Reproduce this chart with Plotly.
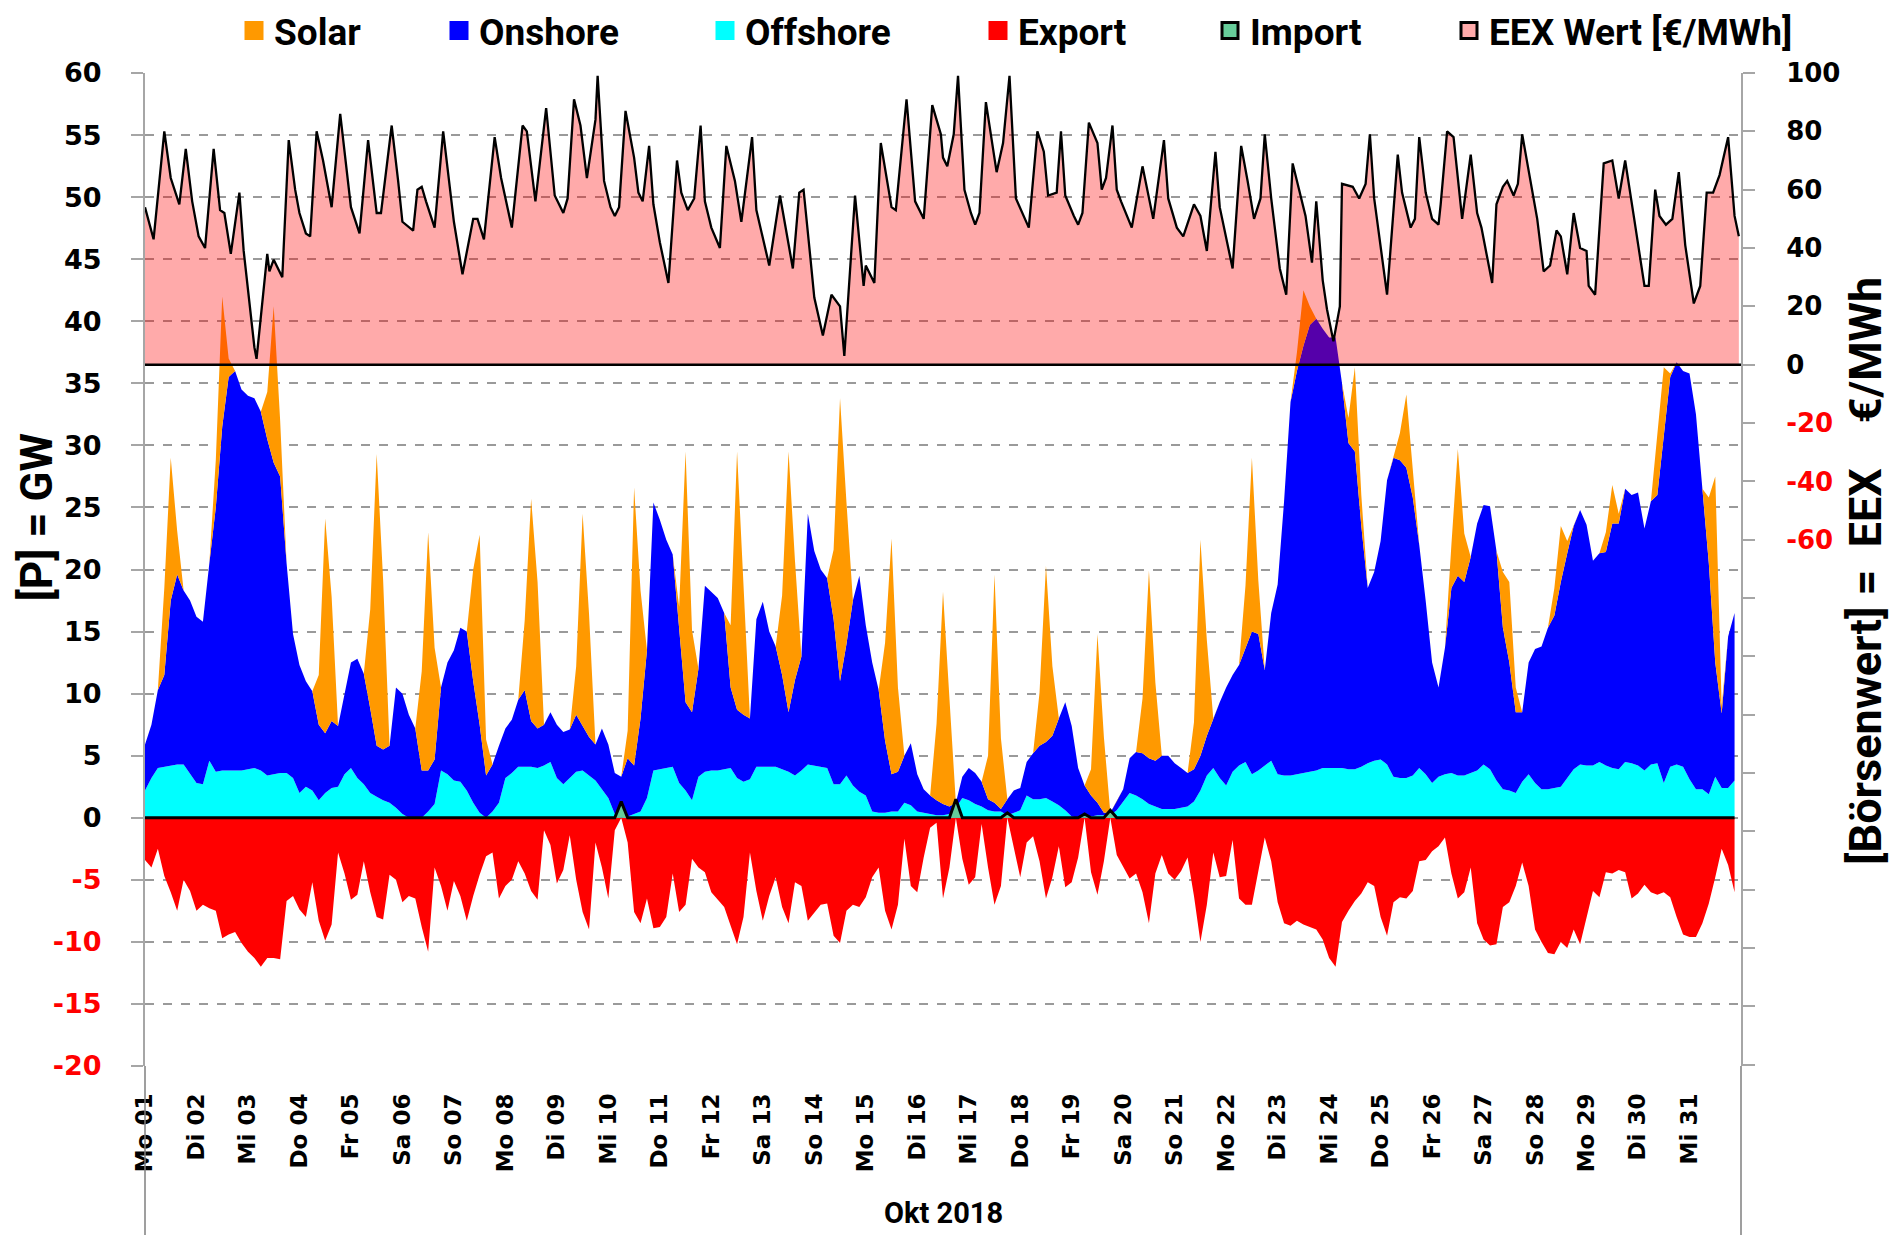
import pandas as pd
import plotly.graph_objects as go

# ---------------- DATA ----------------
# 3-hourly values for October 2018 (8 values per day, rows = days 01..31)
offshore_gw = [
    2.2, 3.2, 4.0, 4.1, 4.2, 4.3, 4.3, 3.5,
    2.8, 2.7, 4.6, 3.7, 3.8, 3.8, 3.8, 3.8,
    3.9, 4.0, 3.8, 3.4, 3.5, 3.6, 3.6, 3.2,
    2.0, 2.5, 2.2, 1.4, 2.0, 2.4, 2.5, 3.5,
    4.0, 3.2, 2.7, 2.0, 1.7, 1.4, 1.2, 0.8,
    0.3, 0.0, 0.0, 0.0, 0.5, 1.1, 3.8, 3.5,
    3.0, 2.9, 2.2, 1.2, 0.4, 0.0, 0.5, 1.2,
    3.2, 3.6, 4.1, 4.1, 4.1, 4.0, 4.2, 4.5,
    3.2, 2.7, 3.2, 3.7, 3.8, 3.4, 3.0, 2.3,
    1.6, 0.3, 0.0, 0.1, 0.3, 0.5, 1.6, 3.8,
    3.9, 4.0, 4.1, 2.8, 2.2, 1.4, 3.3, 3.7,
    3.8, 3.8, 3.9, 4.0, 3.2, 2.9, 3.1, 4.1,
    4.1, 4.1, 4.1, 3.9, 3.7, 3.4, 3.8, 4.3,
    4.2, 4.1, 4.0, 2.7, 2.7, 3.4, 2.6, 2.1,
    1.8, 0.5, 0.4, 0.4, 0.5, 0.5, 1.2, 1.0,
    0.5, 0.4, 0.3, 0.2, 0.2, 0.3, 0.8, 1.6,
    1.4, 1.1, 0.9, 0.6, 0.5, 0.5, 0.2, 0.4,
    0.6, 1.8, 1.5, 1.5, 1.6, 1.3, 1.0, 0.6,
    0.1, 0.0, 0.0, 0.1, 0.2, 0.2, 0.2, 0.6,
    1.3, 2.0, 1.8, 1.5, 1.1, 0.9, 0.7, 0.7,
    0.7, 0.8, 0.9, 1.3, 2.2, 3.4, 4.0, 3.2,
    2.6, 3.7, 4.2, 4.5, 3.5, 3.8, 4.2, 4.6,
    3.5, 3.4, 3.4, 3.5, 3.6, 3.7, 3.8, 4.0,
    4.0, 4.0, 4.0, 3.9, 3.9, 4.1, 4.4, 4.6,
    4.7, 4.3, 3.3, 3.2, 3.2, 3.4, 4.0, 3.5,
    2.8, 3.3, 3.5, 3.6, 3.4, 3.4, 3.6, 3.8,
    4.3, 3.9, 3.0, 2.3, 2.2, 2.0, 2.9, 3.5,
    2.8, 2.3, 2.3, 2.4, 2.5, 3.2, 3.9, 4.3,
    4.2, 4.2, 4.5, 4.2, 4.0, 3.9, 4.5, 4.4,
    4.2, 3.8, 4.3, 4.4, 2.8, 4.1, 4.3, 4.1,
    3.1, 2.3, 2.3, 1.9, 3.3, 2.4, 2.4, 3.0,
]

onshore_gw = [
    3.7, 4.3, 6.3, 7.4, 13.3, 15.3, 14.0, 14.0,
    13.4, 13.1, 15.9, 21.3, 27.7, 31.7, 32.2, 30.7,
    30.1, 29.8, 28.9, 27.1, 25.1, 23.9, 16.9, 11.6,
    10.3, 8.5, 8.0, 6.1, 4.8, 5.4, 4.9, 6.4,
    8.5, 9.6, 8.9, 6.8, 4.1, 4.1, 4.6, 9.7,
    9.7, 8.3, 7.2, 3.8, 3.3, 3.6, 6.7, 9.0,
    10.5, 12.4, 12.8, 9.8, 7.1, 3.4, 3.8, 4.6,
    4.0, 4.3, 5.4, 6.2, 3.7, 3.2, 3.3, 4.0,
    4.3, 4.2, 3.9, 4.6, 3.6, 3.1, 2.9, 4.9,
    4.3, 3.3, 3.3, 4.7, 3.9, 7.5, 11.9, 21.6,
    20.1, 18.4, 17.1, 12.2, 7.1, 7.1, 8.7, 15.0,
    14.4, 13.9, 12.6, 6.5, 5.5, 5.4, 4.9, 11.9,
    13.3, 10.9, 9.7, 7.6, 4.8, 7.7, 9.2, 20.2,
    17.3, 15.9, 15.3, 13.3, 8.3, 10.6, 14.9, 17.4,
    13.7, 12.0, 9.9, 5.8, 3.0, 3.2, 3.8, 5.0,
    3.0, 1.9, 1.5, 1.2, 0.9, 0.6, 0.4, 1.7,
    2.6, 2.5, 2.0, 0.9, 0.7, 0.2, 1.3, 1.8,
    1.8, 2.7, 3.7, 4.3, 4.5, 5.3, 7.0, 8.7,
    7.3, 4.0, 2.6, 1.7, 1.0, 0.2, 0.2, 0.7,
    1.0, 2.8, 3.5, 3.7, 3.7, 3.7, 4.3, 4.3,
    3.7, 3.2, 2.7, 2.6, 2.8, 3.2, 4.0, 6.1,
    7.9, 7.8, 8.1, 9.1, 11.5, 11.0, 7.7, 11.9,
    15.3, 22.1, 30.1, 32.5, 34.4, 36.0, 36.4, 35.4,
    34.7, 34.7, 31.0, 26.3, 25.6, 19.4, 14.1, 15.2,
    17.6, 22.9, 25.7, 25.6, 25.0, 22.4, 18.0, 14.0,
    9.7, 7.2, 10.2, 14.9, 16.1, 15.6, 17.4, 19.9,
    20.9, 21.2, 18.5, 13.0, 10.3, 6.5, 5.6, 9.0,
    10.8, 11.5, 13.0, 13.9, 16.5, 18.1, 19.6, 20.5,
    19.4, 16.5, 16.8, 17.2, 19.7, 19.8, 22.0, 21.6,
    22.0, 19.5, 21.2, 21.6, 27.7, 31.4, 32.4, 31.9,
    32.7, 30.2, 24.2, 18.6, 9.2, 6.0, 12.2, 13.5,
]

solar_gw = [
    0, 0, 0, 7.0, 11.5, 3.5, 0, 0,
    0, 0, 0, 3.8, 10.5, 1.5, 0, 0,
    0, 0, 0, 3.8, 12.6, 4.5, 0, 0,
    0, 0, 0, 4.0, 17.3, 10.0, 0, 0,
    0, 0, 0, 8.0, 23.5, 13.7, 0, 0,
    0, 0, 0, 8.0, 19.2, 9.0, 0, 0,
    0, 0, 0, 9.0, 15.3, 2.9, 0, 0,
    0, 0, 0, 5.6, 17.9, 11.8, 0, 0,
    0, 0, 0, 3.9, 17.1, 9.9, 0, 0,
    0, 0, 0, 2.2, 22.4, 10.3, 0, 0,
    0, 0, 0, 2.0, 20.2, 6.6, 0, 0,
    0, 0, 0, 5.0, 20.8, 10.0, 0, 0,
    0, 0, 0, 6.4, 21.0, 9.6, 0, 0,
    0, 0, 0, 5.6, 22.8, 11.4, 0, 0,
    0, 0, 0, 7.9, 19.0, 6.8, 0, 0,
    0, 0, 0, 6.2, 17.1, 8.7, 0, 0,
    0, 0, 0, 3.5, 18.4, 5.7, 0, 0,
    0, 0, 0, 4.3, 14.2, 5.6, 0, 0,
    0, 0, 0, 2.1, 13.6, 6.1, 0, 0,
    0, 0, 0, 4.4, 15.1, 6.3, 0, 0,
    0, 0, 0, 3.8, 17.4, 7.7, 0, 0,
    0, 0, 0, 5.1, 14.0, 4.3, 0, 0,
    0, 0, 0, 1.5, 4.5, 1.5, 0, 0,
    0, 0, 0, 2.0, 6.8, 2.5, 0, 0,
    0, 0, 0, 2.2, 5.9, 2.1, 0, 0,
    0, 0, 0, 3.5, 10.2, 3.9, 0, 0,
    0, 0, 0, 4.5, 6.5, 2.0, 0, 0,
    0, 0, 0, 2.2, 4.5, 1.0, 0, 0,
    0, 0, 0, 1.6, 3.1, 0.8, 0, 0,
    0, 0, 0, 5.0, 5.8, 0.3, 0, 0,
    0, 0, 0, 5.3, 15.0, 0.6, 0, 0,
]

export_gw = [
    -3.4, -4.0, -2.5, -4.7, -6.0, -7.5, -5.0, -5.9,
    -7.5, -7.0, -7.3, -7.5, -9.7, -9.4, -9.2, -10.1,
    -10.8, -11.3, -12.0, -11.3, -11.3, -11.4, -6.7, -6.3,
    -7.4, -8.0, -5.2, -8.3, -9.9, -8.6, -2.8, -4.5,
    -6.6, -6.2, -3.5, -6.0, -8.0, -8.2, -4.6, -5.0,
    -6.8, -6.3, -6.5, -8.8, -10.8, -4.0, -5.5, -7.5,
    -5.1, -6.3, -8.3, -6.3, -4.6, -3.1, -2.8, -6.5,
    -5.5, -5.0, -3.5, -4.5, -5.9, -6.6, -1.0, -2.2,
    -5.3, -4.2, -1.4, -5.0, -7.6, -9.0, -2.0, -4.0,
    -6.5, -1.0, 0.0, -2.0, -7.6, -8.5, -6.5, -8.9,
    -8.8, -8.0, -4.5, -7.6, -7.0, -3.3, -4.0, -4.4,
    -6.0, -6.6, -7.2, -8.7, -10.2, -8.0, -2.8, -5.9,
    -8.3, -6.3, -4.8, -7.2, -8.5, -5.2, -5.5, -8.3,
    -7.6, -7.0, -6.9, -9.5, -10.1, -7.5, -7.0, -7.2,
    -6.4, -4.8, -4.0, -7.5, -9.0, -7.0, -1.7, -5.5,
    -6.0, -3.2, -0.8, -0.4, -6.5, -4.0, 0.0, -3.3,
    -5.4, -4.8, -0.5, -4.0, -7.0, -5.5, 0.0, -2.5,
    -4.8, -2.0, -1.5, -3.5, -6.5, -4.8, -2.3, -5.6,
    -5.2, -3.2, 0.0, -4.4, -6.2, -3.5, 0.0, -3.0,
    -4.0, -4.9, -4.5, -6.0, -8.5, -4.5, -3.0, -4.5,
    -5.0, -4.3, -3.2, -6.3, -10.0, -7.0, -2.8, -4.8,
    -4.7, -1.8, -6.5, -7.0, -7.0, -4.4, -1.6, -3.5,
    -6.8, -8.5, -8.7, -8.3, -8.6, -8.8, -9.0, -9.8,
    -11.3, -12.0, -8.4, -7.5, -6.7, -6.1, -5.2, -5.5,
    -8.0, -9.5, -6.8, -6.4, -6.5, -5.9, -3.5, -3.4,
    -2.7, -2.3, -1.6, -4.5, -6.5, -6.0, -4.0, -8.5,
    -9.8, -10.3, -10.2, -7.2, -6.8, -5.5, -3.6, -5.5,
    -9.0, -10.0, -10.9, -11.0, -10.0, -10.5, -9.0, -10.2,
    -8.0, -5.9, -6.4, -4.4, -4.5, -4.2, -4.4, -6.5,
    -6.1, -5.4, -6.0, -6.2, -6.0, -6.4, -8.0, -9.4,
    -9.6, -9.6, -8.5, -6.9, -4.8, -2.5, -3.8, -6.0,
]

import_gw = [
    0, 0, 0, 0, 0, 0, 0, 0,
    0, 0, 0, 0, 0, 0, 0, 0,
    0, 0, 0, 0, 0, 0, 0, 0,
    0, 0, 0, 0, 0, 0, 0, 0,
    0, 0, 0, 0, 0, 0, 0, 0,
    0, 0, 0, 0, 0, 0, 0, 0,
    0, 0, 0, 0, 0, 0, 0, 0,
    0, 0, 0, 0, 0, 0, 0, 0,
    0, 0, 0, 0, 0, 0, 0, 0,
    0, 0, 1.3, 0, 0, 0, 0, 0,
    0, 0, 0, 0, 0, 0, 0, 0,
    0, 0, 0, 0, 0, 0, 0, 0,
    0, 0, 0, 0, 0, 0, 0, 0,
    0, 0, 0, 0, 0, 0, 0, 0,
    0, 0, 0, 0, 0, 0, 0, 0,
    0, 0, 0, 0, 0, 0, 1.5, 0,
    0, 0, 0, 0, 0, 0, 0.4, 0,
    0, 0, 0, 0, 0, 0, 0, 0,
    0, 0, 0.3, 0, 0, 0, 0.6, 0,
    0, 0, 0, 0, 0, 0, 0, 0,
    0, 0, 0, 0, 0, 0, 0, 0,
    0, 0, 0, 0, 0, 0, 0, 0,
    0, 0, 0, 0, 0, 0, 0, 0,
    0, 0, 0, 0, 0, 0, 0, 0,
    0, 0, 0, 0, 0, 0, 0, 0,
    0, 0, 0, 0, 0, 0, 0, 0,
    0, 0, 0, 0, 0, 0, 0, 0,
    0, 0, 0, 0, 0, 0, 0, 0,
    0, 0, 0, 0, 0, 0, 0, 0,
    0, 0, 0, 0, 0, 0, 0, 0,
    0, 0, 0, 0, 0, 0, 0, 0,
]

# EEX price: (hour of month, EUR/MWh)
price_points = [
    (0, 54), (4, 43), (9, 80), (11, 70), (12, 64), (16, 55), (19, 74), (22, 56),
    (25, 44), (28, 40), (32, 74), (35, 53), (37, 52), (40, 38), (44, 59), (46, 39),
    (51, 6), (52, 2), (57, 38), (58, 32), (60, 36), (64, 30), (67, 77), (70, 60),
    (72, 52), (75, 45), (77, 44), (80, 80), (83, 70), (87, 54), (91, 86),
    (96, 54), (100, 45), (104, 77), (108, 52), (110, 52), (115, 82), (118, 63),
    (120, 49), (125, 46), (127, 60), (129, 61), (131, 56), (135, 47), (139, 80),
    (144, 49), (148, 31), (153, 50), (155, 50), (158, 43), (163, 78), (166, 64),
    (171, 47), (176, 82), (178, 80), (182, 56), (187, 88),
    (191, 58), (195, 52), (197, 57), (200, 91), (203, 82), (206, 64), (210, 84), (211, 99),
    (214, 63), (217, 54), (219, 51), (221, 54), (224, 87), (228, 71), (230, 59), (232, 56),
    (235, 75), (237, 55),
    (240, 42), (244, 28), (248, 70), (250, 59), (253, 53), (256, 57), (259, 82), (261, 56),
    (264, 47), (268, 40), (271, 75), (275, 63), (278, 49), (283, 78), (285, 53),
    (288, 43), (291, 34), (296, 58), (299, 46), (302, 33), (305, 59), (307, 60), (310, 38),
    (312, 23), (316, 10), (320, 24), (324, 20), (326, 3), (331, 58), (334, 33), (335, 27),
    (336, 34), (340, 28), (343, 76), (348, 54), (350, 53), (355, 91), (359, 56), (363, 50),
    (367, 89), (371, 79), (372, 71), (374, 68), (377, 79), (379, 99), (382, 60), (385, 52),
    (387, 48), (389, 52), (392, 90), (394, 81), (397, 66), (400, 76), (403, 99), (406, 57),
    (412, 47), (416, 80), (419, 73), (421, 58), (425, 59), (427, 80), (429, 58), (433, 51),
    (435, 48), (437, 52), (440, 83), (444, 76), (446, 60), (448, 64), (451, 82), (453, 60),
    (455, 56), (460, 47), (465, 68), (470, 50), (475, 77), (477, 57), (481, 47), (484, 44),
    (489, 55), (492, 51), (495, 39), (499, 73), (501, 54), (507, 33), (511, 75), (514, 63),
    (517, 50), (520, 57), (522, 79), (525, 57), (529, 33), (532, 24), (535, 69), (538, 60),
    (541, 51), (544, 35), (546, 56), (549, 29), (551, 19), (554, 8), (557, 20), (558, 62),
    (563, 61), (566, 57), (569, 62), (571, 79), (573, 57), (579, 24), (584, 72), (586, 59),
    (590, 47), (592, 50), (594, 78), (597, 59), (600, 50), (603, 48), (604, 55), (607, 80),
    (610, 78), (614, 50), (618, 72), (621, 52), (623, 47), (628, 28), (630, 55), (633, 61),
    (635, 63), (638, 58), (640, 62), (642, 79), (646, 62), (649, 50), (652, 32), (655, 34),
    (658, 46), (660, 44), (663, 31), (666, 52), (669, 40), (672, 39), (673, 27), (676, 24),
    (680, 69), (684, 70), (687, 57), (690, 70), (694, 51), (699, 27), (701, 27), (704, 60),
    (706, 51), (709, 48), (712, 50), (715, 66), (718, 41), (722, 21), (725, 27), (728, 59),
    (731, 59), (734, 65), (738, 78), (741, 51), (743, 44),
]

day_labels = ["Mo 01", "Di 02", "Mi 03", "Do 04", "Fr 05", "Sa 06", "So 07", "Mo 08",
              "Di 09", "Mi 10", "Do 11", "Fr 12", "Sa 13", "So 14", "Mo 15", "Di 16",
              "Mi 17", "Do 18", "Fr 19", "Sa 20", "So 21", "Mo 22", "Di 23", "Mi 24",
              "Do 25", "Fr 26", "Sa 27", "So 28", "Mo 29", "Di 30", "Mi 31"]

gw_ticks = [-20, -15, -10, -5, 0, 5, 10, 15, 20, 25, 30, 35, 40, 45, 50, 55, 60]
eur_ticks = [-240, -220, -200, -180, -160, -140, -120, -100, -80,
             -60, -40, -20, 0, 20, 40, 60, 80, 100]
eur_labelled_min = -60

month_label = "Okt 2018"
series_names = ["Solar", "Onshore", "Offshore", "Export", "Import", "EEX Wert [€/MWh]"]

# ---------------- FIGURE ----------------
t0 = pd.Timestamp("2018-10-01 00:00")
t_grid = pd.date_range(t0, periods=len(offshore_gw), freq="3h")
price_hours = [p[0] for p in price_points]
price_eur = [p[1] for p in price_points]
price_t = [t0 + pd.Timedelta(hours=h) for h in price_hours]
day_starts = pd.date_range(t0, periods=len(day_labels), freq="D")

C_SOLAR, C_ON, C_OFF, C_EXP, C_IMP = "#FF9900", "#0000FF", "#00FFFF", "#FF0000", "#66CC99"
PRICE_FILL = "rgba(255,0,0,0.333)"

fig = go.Figure()
fig.add_trace(go.Scatter(x=t_grid, y=offshore_gw, stackgroup="prod", mode="lines",
                         line=dict(width=0, color=C_OFF), fillcolor=C_OFF, showlegend=False))
fig.add_trace(go.Scatter(x=t_grid, y=onshore_gw, stackgroup="prod", mode="lines",
                         line=dict(width=0, color=C_ON), fillcolor=C_ON, showlegend=False))
fig.add_trace(go.Scatter(x=t_grid, y=solar_gw, stackgroup="prod", mode="lines",
                         line=dict(width=0, color=C_SOLAR), fillcolor=C_SOLAR, showlegend=False))
fig.add_trace(go.Scatter(x=t_grid, y=export_gw, fill="tozeroy", mode="lines",
                         line=dict(width=0, color=C_EXP), fillcolor=C_EXP, showlegend=False))
fig.add_trace(go.Scatter(x=t_grid, y=import_gw, fill="tozeroy", mode="lines",
                         line=dict(width=3, color="black"), fillcolor=C_IMP, showlegend=False))
fig.add_trace(go.Scatter(x=price_t, y=price_eur, yaxis="y2", fill="tozeroy", mode="lines",
                         line=dict(width=2.3, color="black"), fillcolor=PRICE_FILL,
                         showlegend=False))

# legend-only entries, one legend each so they can be spaced like the original
legend_fill = [C_SOLAR, C_ON, C_OFF, C_EXP, C_IMP, "#FFAAAA"]
legend_border = ["#FF9900", "#0000FF", "#00FFFF", "#FF0000", "black", "black"]
legend_x_px = [234, 439, 705, 978, 1210, 1449]
LEG_FONT = dict(family="Roboto, Open Sans, sans-serif", size=37, weight="bold", color="black")
layout_legends = {}
for i, (nm, fc, bc, xp) in enumerate(zip(series_names, legend_fill, legend_border, legend_x_px)):
    key = "legend" if i == 0 else f"legend{i + 1}"
    fig.add_trace(go.Scatter(
        x=[None], y=[None], mode="markers", name=nm, legend=key,
        marker=dict(symbol="square", size=16, color=fc, line=dict(color=bc, width=3))))
    layout_legends[key] = dict(x=xp / 1900, y=1.0, xref="container", yref="container",
                               xanchor="left", yanchor="top", orientation="h",
                               font=LEG_FONT, bgcolor="rgba(0,0,0,0)", borderwidth=0)

def red_if_negative(v, show=True):
    if not show:
        return ""
    s = str(v)
    return f'<span style="color:#FF0000">{s}</span>' if v < 0 else s

gw_text = [red_if_negative(v) for v in gw_ticks]
eur_text = [red_if_negative(v, v >= eur_labelled_min) for v in eur_ticks]

AX_GRAY = "#A6A6A6"
TICK_FONT = dict(family="DejaVu Sans", size=27, weight="bold", color="black")
TITLE_FONT = dict(family="Roboto, Open Sans, sans-serif", size=40, weight="bold", color="black")

fig.update_layout(
    width=1900, height=1235,
    margin=dict(l=145, r=159, t=73, b=169, autoexpand=False),
    paper_bgcolor="white", plot_bgcolor="white",
    xaxis=dict(type="date", range=[t0, t0 + pd.Timedelta(days=len(day_labels))],
               tickmode="array", tickvals=day_starts, ticktext=day_labels,
               tickangle=-90, tickfont=dict(family="DejaVu Sans", size=23, weight="bold",
                                            color="black"),
               showgrid=False, showline=False, zeroline=False, ticks="",
               ticklabelstandoff=22, automargin=False),
    yaxis=dict(range=[-20, 60], tickmode="array", tickvals=gw_ticks, ticktext=gw_text,
               tickfont=TICK_FONT, showgrid=True, gridcolor="#9A9A9A", griddash="dash",
               gridwidth=1.5, showline=True, linecolor=AX_GRAY, linewidth=2,
               ticks="outside", ticklen=12, tickcolor=AX_GRAY, tickwidth=1.5,
               zeroline=False, ticklabelstandoff=24, automargin=False),
    yaxis2=dict(overlaying="y", side="right", range=[-240.4, 100], tickmode="array",
                tickvals=eur_ticks, ticktext=eur_text, tickfont=dict(TICK_FONT, size=26),
                showgrid=False, zeroline=False, showline=True, linecolor=AX_GRAY,
                linewidth=2, ticks="outside", ticklen=12, tickcolor=AX_GRAY, tickwidth=1.5,
                ticklabelstandoff=26, automargin=False),
    shapes=[
        dict(type="line", xref="paper", x0=0, x1=1, yref="y2", y0=0, y1=0,
             line=dict(color="black", width=2.5), layer="above"),
        dict(type="line", xref="paper", yref="paper", x0=0, x1=0, y0=0, y1=-0.171,
             line=dict(color="#7F7F7F", width=1.5)),
        dict(type="line", xref="paper", yref="paper", x0=1, x1=1, y0=0, y1=-0.171,
             line=dict(color="#7F7F7F", width=1.5)),
    ],
    annotations=[
        dict(text="[P] = GW", xref="paper", yref="paper", x=-0.068, y=0.553,
             textangle=-90, showarrow=False, font=dict(TITLE_FONT, size=44),
             xanchor="center", yanchor="middle"),
        dict(text="[Börsenwert] =\u00a0\u00a0EEX\u00a0\u00a0\u00a0\u00a0€/MWh", xref="paper",
             yref="paper", x=1.0783, y=0.4985, textangle=-90, showarrow=False,
             font=dict(TITLE_FONT, size=45), xanchor="center", yanchor="middle"),
        dict(text=month_label, xref="paper", yref="paper", x=0.5006, y=-0.148,
             showarrow=False, font=dict(family="Roboto, Open Sans, sans-serif", size=29,
                                        weight="bold", color="black"),
             xanchor="center", yanchor="middle"),
    ],
    **layout_legends,
)

fig.write_html("out.html",
               config={"displayModeBar": False},
               post_script="document.body.style.margin='0';"
                           "document.body.style.overflow='hidden';")
